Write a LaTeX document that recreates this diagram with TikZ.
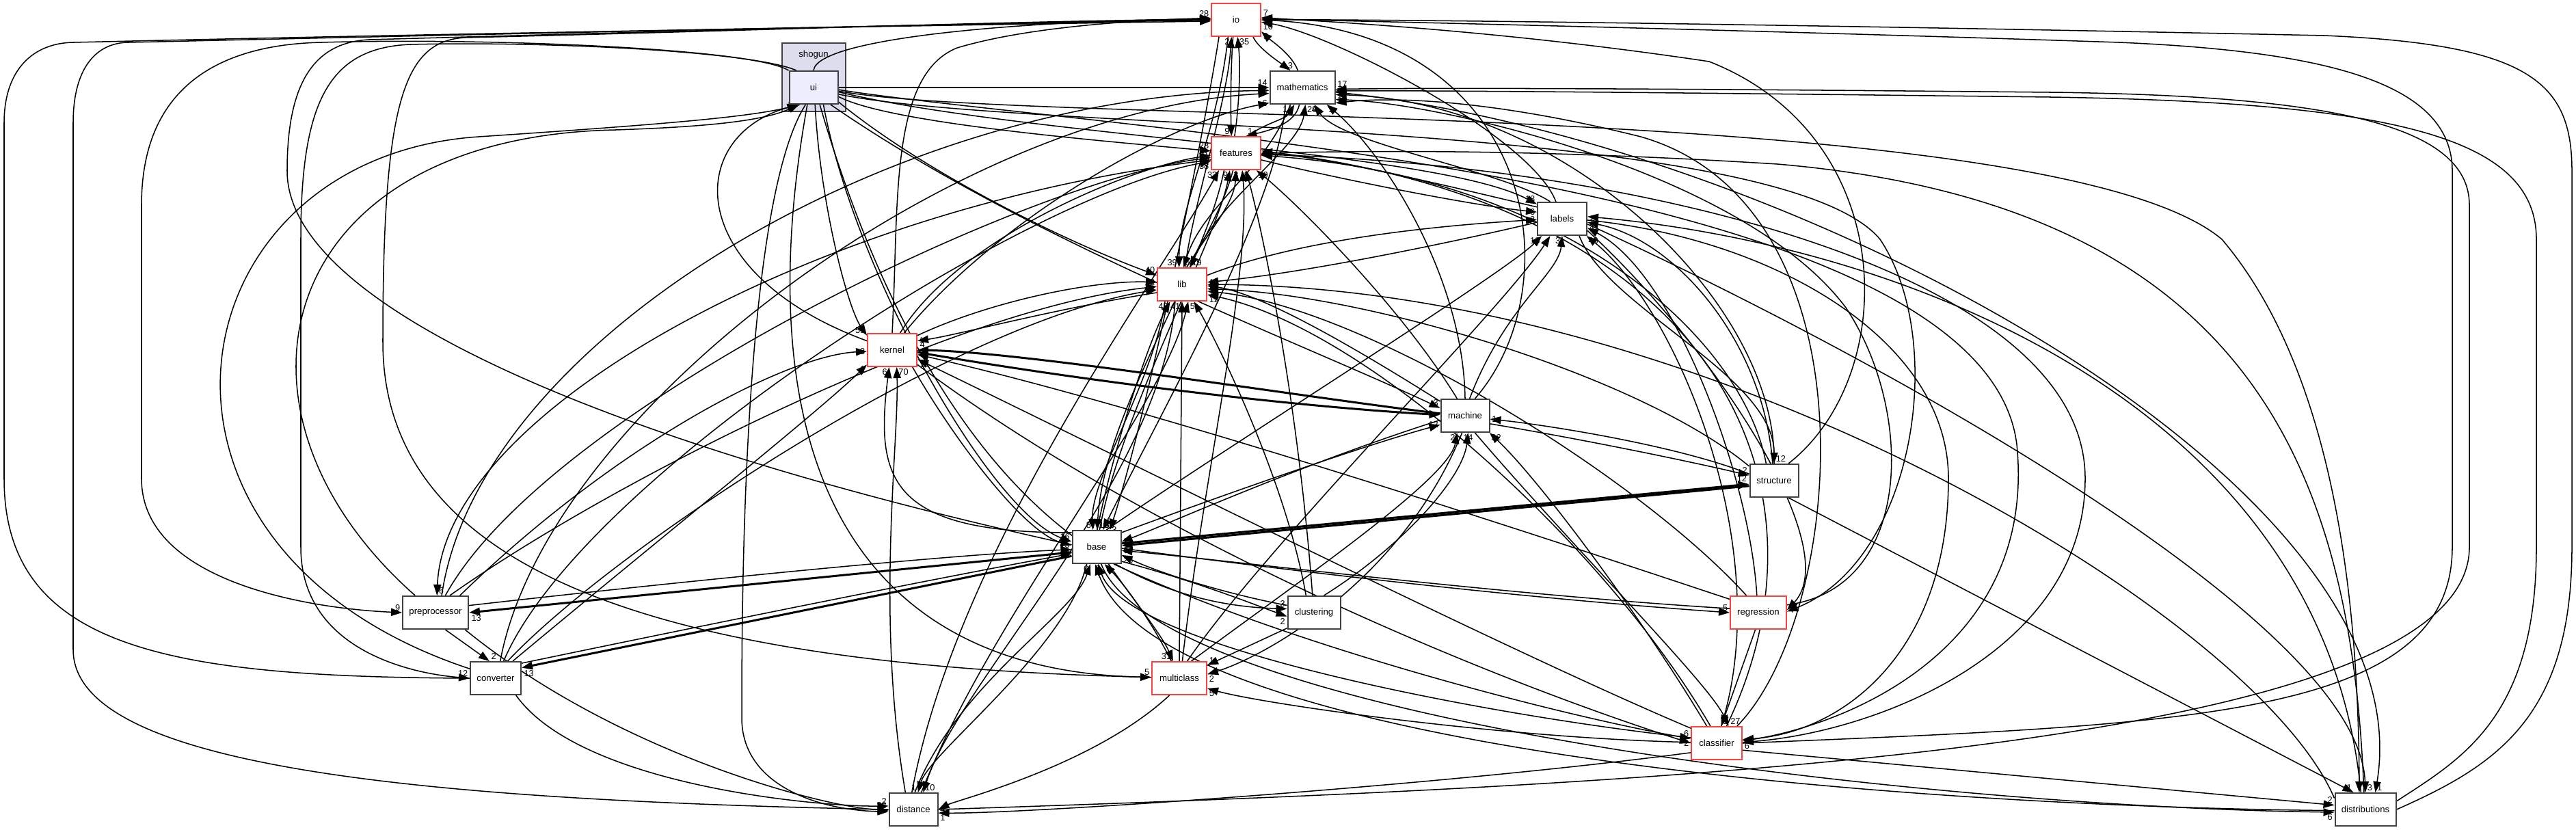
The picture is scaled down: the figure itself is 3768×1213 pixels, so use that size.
\documentclass[tikz,border=0pt]{standalone}
\usepackage{fontspec}
\newfontfamily\hv{Liberation Sans}
\usetikzlibrary{arrows.meta}
\definecolor{nb}{RGB}{64,64,64}
\definecolor{nr}{RGB}{255,64,64}
\definecolor{clf}{RGB}{221,221,238}
\definecolor{uif}{RGB}{238,238,255}
\pgfdeclarelayer{cl}
\pgfdeclarelayer{edges}
\pgfsetlayers{cl,edges,main}
\begin{document}
\begin{tikzpicture}[x=0.25pt,y=-0.25pt,
 dn/.style={draw=nb,line width=0.5pt,fill=white,minimum height=12pt,inner sep=0pt,font=\hv\fontsize{3.3}{4}\selectfont},
 rn/.style={dn,draw=nr},
 e/.style={draw=black,line width=0.38pt,-{Triangle[length=4pt,width=2.8pt]}},
 et/.style={e,line width=0.75pt},
 l/.style={font=\hv\fontsize{3.2}{3.6}\selectfont,inner sep=0.5pt},
]
\useasboundingbox (0,0) rectangle (3768,1213);
\begin{pgfonlayer}{cl}
\fill[white] (0,0) rectangle (3768,1213);
\draw[draw=nb,fill=clf,line width=0.5pt] (1144,63) rectangle (1237,163);
\end{pgfonlayer}
\node[font=\hv\fontsize{3.3}{4}\selectfont] (shogun) at (1190,80) {shogun};
\node[dn,fill=uif,minimum width=17.75pt] (ui) at (1190,128) {ui};
\node[rn,minimum width=18pt] (io) at (1808,29) {io};
\node[dn,minimum width=23.75pt] (mathematics) at (1905,128) {mathematics};
\node[rn,minimum width=18pt] (features) at (1808,224) {features};
\node[dn,minimum width=18pt] (labels) at (2285,320) {labels};
\node[rn,minimum width=18pt] (lib) at (1729,416) {lib};
\node[rn,minimum width=18pt] (kernel) at (1305,512) {kernel};
\node[dn,minimum width=17.75pt] (machine) at (2143,608) {machine};
\node[dn,minimum width=17.75pt] (structure) at (2595,703) {structure};
\node[dn,minimum width=17.75pt] (base) at (1604,800) {base};
\node[dn,minimum width=24pt] (preprocessor) at (637,896) {preprocessor};
\node[dn,minimum width=19.25pt] (clustering) at (1922,896) {clustering};
\node[rn,minimum width=20.5pt] (regression) at (2572,896) {regression};
\node[dn,minimum width=18.5pt] (converter) at (725,992) {converter};
\node[rn,minimum width=20pt] (multiclass) at (1725,992) {multiclass};
\node[rn,minimum width=18.5pt] (classifier) at (2511,1087) {classifier};
\node[dn,minimum width=17.75pt] (distance) at (1336,1184) {distance};
\node[dn,minimum width=22.25pt] (distributions) at (3460,1184) {distributions};

\begin{pgfonlayer}{edges}
% into io
\draw[e] (ui.north) .. controls (1195,55) and (1500,30) .. (io.178) node[l,anchor=south east]{28};
\draw[e] (converter.west) .. controls (250,990) and (6,950) .. (6,700) -- (6,180) .. controls (6,100) and (50,63) .. (107,62) .. controls (700,48) and (1500,35) .. (io.183);
\draw[e] (distance.west) .. controls (600,1170) and (107,1120) .. (107,950) -- (107,180) .. controls (107,100) and (140,63) .. (187,62) .. controls (800,48) and (1500,33) .. (io.181);
\draw[e] (base.175) .. controls (900,650) and (420,450) .. (420,250) .. controls (420,120) and (460,62) .. (540,58) .. controls (1000,45) and (1500,32) .. (io.180);
\draw[e] (multiclass.178) .. controls (1000,975) and (560,850) .. (560,500) .. controls (560,150) and (590,60) .. (680,55) .. controls (1100,45) and (1500,30) .. (io.179);
\draw[e] (kernel.north) .. controls (1315,300) and (1300,110) .. (1400,70) .. controls (1500,40) and (1650,30) .. (io.176);
\draw[e] (features.95) .. controls (1812,160) and (1815,100) .. (io.-85) node[l,anchor=north west]{35};
\draw[e] (io.-100) .. controls (1800,100) and (1800,160) .. (features.105) node[l,anchor=south east]{9};
\draw[e] (io.-45) .. controls (1840,70) and (1870,90) .. (mathematics.125) node[l,anchor=south]{3};
\draw[e] (mathematics.105) .. controls (1890,80) and (1860,60) .. (io.-25) node[l,anchor=north west]{5};
\draw[e] (io.-115) .. controls (1780,200) and (1725,300) .. (lib.100) node[l,anchor=south east]{39};
\draw[e] (lib.80) .. controls (1745,300) and (1795,150) .. (io.-105) node[l,anchor=north east]{2};
\draw[e] (labels.110) .. controls (2240,200) and (1950,50) .. (io.-5) node[l,anchor=north west]{10};
\draw[e] (machine.60) .. controls (2300,420) and (2250,50) .. (io.east);
\draw[e] (structure.50) .. controls (2780,550) and (2780,200) .. (2500,90) .. controls (2200,45) and (1950,32) .. (io.5) node[l,anchor=south west]{7};
\draw[e] (classifier.east) .. controls (3200,1060) and (3587,1050) .. (3587,800) -- (3587,250) .. controls (3587,120) and (3400,75) .. (3100,62) .. controls (2500,42) and (1950,30) .. (io.2);
\draw[e] (distributions.east) .. controls (3650,1120) and (3762,1050) .. (3762,800) -- (3762,250) .. controls (3762,120) and (3700,65) .. (3400,52) .. controls (2600,35) and (2000,28) .. (io.0);
% into mathematics
\draw[e] (ui.east) -- (mathematics.west) node[l,anchor=south east]{14};
\draw[e] (features.55) .. controls (1850,180) and (1880,175) .. (mathematics.-115) node[l,anchor=north east]{14};
\draw[e] (mathematics.-100) .. controls (1895,180) and (1860,190) .. (features.60) node[l,anchor=south west]{1};
\draw[e] (lib.65) .. controls (1770,300) and (1900,220) .. (mathematics.-80) node[l,anchor=north west]{29};
\draw[e] (kernel.55) .. controls (1450,330) and (1700,180) .. (mathematics.-155) node[l,anchor=east]{6};
\draw[e] (labels.125) .. controls (2200,250) and (1960,210) .. (mathematics.-55) node[l,anchor=north]{4};
\draw[e] (machine.north) .. controls (2140,400) and (2020,220) .. (mathematics.-35) node[l,anchor=north west]{1};
\draw[e] (structure.north) .. controls (2600,450) and (2300,150) .. (mathematics.-12) node[l,anchor=north west]{10};
\draw[e] (distance.east) .. controls (2400,1150) and (3612,1100) .. (3612,800) -- (3612,300) .. controls (3612,180) and (3400,140) .. (3000,135) .. controls (2500,130) and (2100,128) .. (mathematics.-3) node[l,anchor=south west]{17};
\draw[e] (distributions.15) .. controls (3600,1110) and (3710,1050) .. (3710,800) -- (3710,350) .. controls (3710,200) and (3500,150) .. (3000,142) .. controls (2500,136) and (2100,132) .. (mathematics.-6) node[l,anchor=west]{6};
\draw[e] (regression.15) .. controls (2800,860) and (2800,600) .. (2700,450) .. controls (2550,250) and (2100,150) .. (mathematics.-20);
\draw[e] (preprocessor.70) .. controls (700,500) and (1300,140) .. (mathematics.185);
\draw[e] (converter.75) .. controls (800,600) and (1400,160) .. (mathematics.190);
\draw[e] (classifier.40) .. controls (2700,900) and (2750,300) .. (2400,200) .. controls (2200,150) and (2050,140) .. (mathematics.-25);
% into features
\draw[e] (ui.-20) .. controls (1300,180) and (1600,205) .. (features.175) node[l,anchor=south east]{28};
\draw[e] (kernel.65) .. controls (1400,350) and (1650,245) .. (features.185) node[l,anchor=east]{21};
\draw[e] (preprocessor.60) .. controls (800,600) and (1500,265) .. (features.190) node[l,anchor=north east]{33};
\draw[e] (converter.65) .. controls (850,700) and (1500,285) .. (features.198) node[l,anchor=north east]{38};
\draw[e] (distance.95) .. controls (1400,800) and (1700,400) .. (features.-135) node[l,anchor=north east]{33};
\draw[e] (base.80) .. controls (1640,600) and (1780,350) .. (features.-110) node[l,anchor=north east]{9};
\draw[e] (lib.75) .. controls (1760,350) and (1805,300) .. (features.-90) node[l,anchor=north]{3};
\draw[e] (multiclass.80) .. controls (1760,700) and (1830,400) .. (features.-70) node[l,anchor=north west]{8};
\draw[e] (machine.115) .. controls (2050,450) and (1900,300) .. (features.-40) node[l,anchor=north west]{10};
\draw[e] (labels.155) .. controls (2150,280) and (1950,230) .. (features.east) node[l,anchor=west]{4};
\draw[e] (classifier.60) .. controls (2700,700) and (2500,300) .. (features.5);
\draw[e] (structure.115) .. controls (2550,500) and (2300,260) .. (features.-5);
\draw[e] (clustering.95) .. controls (1900,600) and (1850,350) .. (features.-60);
\draw[e] (distributions.95) .. controls (3440,700) and (3300,300) .. (2600,240) .. controls (2200,215) and (1950,222) .. (features.0);
% into labels
\draw[e] (ui.-10) .. controls (1500,200) and (2100,220) .. (labels.150) node[l,anchor=south east]{18};
\draw[e] (features.-15) .. controls (1950,260) and (2150,300) .. (labels.165) node[l,anchor=east]{6};
\draw[e] (lib.20) .. controls (1900,350) and (2100,330) .. (labels.182) node[l,anchor=east]{2};
\draw[e] (base.60) .. controls (1800,650) and (2200,400) .. (labels.-140) node[l,anchor=north east]{18};
\draw[e] (multiclass.65) .. controls (1850,800) and (2200,450) .. (labels.-125);
\draw[e] (machine.75) .. controls (2200,450) and (2280,400) .. (labels.-90) node[l,anchor=north east]{3};
\draw[e] (classifier.75) .. controls (2600,800) and (2450,450) .. (labels.-35) node[l,anchor=north west]{46};
\draw[e] (regression.95) .. controls (2560,700) and (2450,400) .. (labels.-20) node[l,anchor=west]{4};
\draw[e] (structure.95) .. controls (2580,500) and (2450,350) .. (labels.-8) node[l,anchor=west]{1};
\draw[e] (distributions.105) .. controls (3400,600) and (2800,360) .. (labels.5);
% into lib
\draw[e] (mathematics.-125) .. controls (1850,250) and (1760,300) .. (lib.85) node[l,anchor=south west]{56};
\draw[e] (features.-100) .. controls (1790,300) and (1760,350) .. (lib.65) node[l,anchor=south west]{19};
\draw[e] (ui.-30) .. controls (1350,250) and (1550,350) .. (lib.160) node[l,anchor=south east]{40};
\draw[e] (kernel.30) .. controls (1450,440) and (1600,410) .. (lib.175) node[l,anchor=east]{22};
\draw[e] (preprocessor.50) .. controls (900,700) and (1400,450) .. (lib.185) node[l,anchor=east]{15};
\draw[e] (converter.55) .. controls (900,800) and (1400,470) .. (lib.192);
\draw[e] (labels.188) .. controls (2100,360) and (1900,400) .. (lib.5) node[l,anchor=west]{13};
\draw[e] (machine.150) .. controls (2000,520) and (1850,430) .. (lib.-3) node[l,anchor=west]{6};
\draw[e] (structure.150) .. controls (2400,550) and (2000,430) .. (lib.-10) node[l,anchor=north west]{13};
\draw[e] (classifier.110) .. controls (2350,800) and (2000,480) .. (lib.-22) node[l,anchor=north west]{12};
\draw[e] (base.88) .. controls (1630,650) and (1680,500) .. (lib.-125) node[l,anchor=north east]{45};
\draw[e] (multiclass.north) -- (lib.south) node[l,anchor=north east]{41};
\draw[e] (distance.65) .. controls (1450,900) and (1700,600) .. (lib.-70) node[l,anchor=north west]{5};
\draw[e] (regression.125) .. controls (2400,700) and (2000,450) .. (lib.-15);
\draw[e] (clustering.115) .. controls (1880,700) and (1780,500) .. (lib.-55);
\draw[e] (distributions.160) .. controls (3300,900) and (2500,420) .. (lib.0);
% into kernel
\draw[e] (ui.-85) .. controls (1200,300) and (1240,450) .. (kernel.150) node[l,anchor=south east]{53};
\draw[e] (preprocessor.35) .. controls (900,650) and (1150,520) .. (kernel.183) node[l,anchor=east]{3};
\draw[e] (converter.45) .. controls (950,800) and (1200,600) .. (kernel.-150) node[l,anchor=north east]{1};
\draw[e] (lib.198) .. controls (1550,450) and (1400,490) .. (kernel.20) node[l,anchor=west]{1};
\draw[et] (machine.175) .. controls (1900,580) and (1500,515) .. (kernel.0) node[l,anchor=south west]{4};
\draw[e] (classifier.150) .. controls (2200,950) and (1600,650) .. (kernel.-20) node[l,anchor=north west]{12};
\draw[e] (base.150) .. controls (1300,780) and (1280,700) .. (kernel.-100) node[l,anchor=north east]{6};
\draw[e] (distance.115) .. controls (1280,900) and (1315,650) .. (kernel.-75) node[l,anchor=north west]{70};
\draw[e] (regression.155) .. controls (2300,800) and (1700,600) .. (kernel.-10);
% into machine
\draw[e] (ui.-45) .. controls (1500,350) and (1900,500) .. (machine.163) node[l,anchor=south east]{3};
\draw[et] (kernel.-5) .. controls (1600,560) and (1900,595) .. (machine.178);
\draw[e] (base.30) .. controls (1800,720) and (2000,650) .. (machine.-160) node[l,anchor=east]{12};
\draw[e] (multiclass.55) .. controls (1900,850) and (2120,700) .. (machine.-115) node[l,anchor=north east]{2};
\draw[e] (clustering.60) .. controls (2050,800) and (2140,700) .. (machine.-80) node[l,anchor=north]{14};
\draw[e] (structure.165) .. controls (2450,650) and (2250,620) .. (machine.-8) node[l,anchor=west]{1};
\draw[e] (classifier.120) .. controls (2400,900) and (2250,700) .. (machine.-35) node[l,anchor=north west]{32};
% into structure
\draw[e] (labels.-45) .. controls (2350,450) and (2595,550) .. (structure.north) node[l,anchor=south west]{12};
\draw[e] (machine.-18) .. controls (2300,640) and (2450,670) .. (structure.168) node[l,anchor=south east]{2};
\draw[et] (base.8) -- (structure.188) node[l,anchor=south east]{12};
% into base
\draw[e] (lib.-135) .. controls (1690,550) and (1595,700) .. (base.102) node[l,anchor=south east]{8};
\draw[e] (features.-125) .. controls (1760,400) and (1615,600) .. (base.88) node[l,anchor=south west]{19};
\draw[e] (mathematics.-135) .. controls (1870,300) and (1700,600) .. (base.70) node[l,anchor=south west]{30};
\draw[e] (io.-135) .. controls (1760,200) and (1680,600) .. (base.52) node[l,anchor=west]{3};
\draw[e] (ui.-60) .. controls (1250,400) and (1450,750) .. (base.168) node[l,anchor=south east]{16};
\draw[e] (kernel.-40) .. controls (1400,650) and (1500,780) .. (base.176) node[l,anchor=east]{15};
\draw[e] (preprocessor.12) .. controls (1000,850) and (1400,810) .. (base.186) node[l,anchor=north east]{5};
\draw[et] (base.192) -- (preprocessor.east) node[l,anchor=north west]{13};
\draw[e] (converter.30) .. controls (1100,900) and (1400,840) .. (base.195);
\draw[et] (base.200) -- (converter.22) node[l,anchor=north west]{13};
\draw[e] (machine.-170) .. controls (1900,680) and (1700,770) .. (base.12) node[l,anchor=west]{9};
\draw[et] (structure.192) -- (base.3) node[l,anchor=west]{9};
\draw[e] (regression.172) .. controls (2200,870) and (1800,820) .. (base.-8) node[l,anchor=west]{6};
\draw[e] (clustering.165) .. controls (1800,870) and (1700,840) .. (base.-18) node[l,anchor=north west]{28};
\draw[e] (multiclass.115) .. controls (1680,900) and (1640,850) .. (base.-65) node[l,anchor=north west]{8};
\draw[e] (classifier.168) .. controls (2200,1050) and (1650,950) .. (base.-85) node[l,anchor=north]{5};
\draw[e] (distance.85) .. controls (1400,1000) and (1570,900) .. (base.-110) node[l,anchor=north east]{6};
\draw[e] (distributions.182) .. controls (2800,1180) and (1700,1100) .. (base.-95);
% preprocessor, converter
\draw[e] (ui.north west) .. controls (1100,70) and (700,55) .. (470,62) .. controls (330,65) and (207,120) .. (207,300) -- (207,700) .. controls (207,850) and (450,890) .. (preprocessor.west) node[l,anchor=south east]{9};
\draw[e] (features.195) .. controls (1200,300) and (650,600) .. (preprocessor.85) node[l,anchor=south west]{6};
\draw[e] (ui.135) .. controls (1100,75) and (800,60) .. (600,65) .. controls (480,70) and (440,150) .. (440,350) -- (440,800) .. controls (440,950) and (600,985) .. (converter.west) node[l,anchor=south east]{12};
\draw[e] (preprocessor.-60) -- (converter.110) node[l,anchor=south west]{2};
% clustering
\draw[e] (ui.-70) .. controls (1300,500) and (1500,880) .. (clustering.172) node[l,anchor=south east]{3};
\draw[e] (base.-30) .. controls (1750,850) and (1850,890) .. (clustering.188) node[l,anchor=north east]{2};
% multiclass
\draw[e] (base.-55) .. controls (1660,880) and (1700,930) .. (multiclass.110) node[l,anchor=south east]{31};
\draw[e] (ui.-110) .. controls (1100,600) and (1200,980) .. (multiclass.178) node[l,anchor=south east]{5};
\draw[e] (clustering.-150) -- (multiclass.25) node[l,anchor=south west]{1};
\draw[e] (machine.-100) .. controls (2050,850) and (1850,960) .. (multiclass.8) node[l,anchor=north west]{2};
\draw[e] (classifier.178) .. controls (2200,1080) and (1850,1030) .. (multiclass.-20) node[l,anchor=north west]{5};
% regression
\draw[e] (base.-3) .. controls (2000,850) and (2300,880) .. (regression.180) node[l,anchor=south east]{5};
\draw[e] (labels.-25) .. controls (2500,500) and (2700,800) .. (regression.5) node[l,anchor=west]{4};
\draw[e] (ui.-15) .. controls (1500,195) and (2600,170) .. (2750,350) .. controls (2850,500) and (2800,820) .. (regression.2);
% classifier
\draw[e] (regression.-100) -- (classifier.75) node[l,anchor=south west]{3};
\draw[e] (machine.-60) .. controls (2300,800) and (2500,1000) .. (classifier.55) node[l,anchor=south west]{27};
\draw[e] (base.-45) .. controls (1900,950) and (2300,1050) .. (classifier.170) node[l,anchor=south east]{6};
\draw[e] (kernel.-30) .. controls (1700,800) and (2200,1000) .. (classifier.180) node[l,anchor=east]{2};
\draw[e] (ui.-5) .. controls (1600,190) and (2900,250) .. (2950,650) .. controls (2980,950) and (2700,1060) .. (classifier.5) node[l,anchor=north west]{6};
\draw[e] (features.-3) .. controls (2400,240) and (3050,400) .. (3050,700) .. controls (3050,950) and (2750,1070) .. (classifier.2);
\draw[e] (labels.-3) .. controls (2600,350) and (2850,500) .. (2850,700) .. controls (2850,950) and (2700,1070) .. (classifier.8);
% distance
\draw[e] (base.-120) .. controls (1560,950) and (1360,1100) .. (distance.75) node[l,anchor=south east]{1};
\draw[e] (lib.-112) .. controls (1700,700) and (1400,1000) .. (distance.60) node[l,anchor=south west]{10};
\draw[e] (converter.-40) .. controls (850,1150) and (1200,1180) .. (distance.172) node[l,anchor=south east]{2};
\draw[e] (preprocessor.-30) .. controls (900,1100) and (1200,1180) .. (distance.182) node[l,anchor=south east]{28};
\draw[e] (multiclass.-120) .. controls (1600,1120) and (1400,1170) .. (distance.0) node[l,anchor=west]{4};
\draw[e] (classifier.-160) .. controls (2100,1150) and (1500,1190) .. (distance.-8) node[l,anchor=north west]{1};
\draw[e] (ui.-115) .. controls (1085,300) and (1085,900) .. (1085,1050) .. controls (1085,1150) and (1200,1185) .. (distance.185);
% distributions
\draw[e] (structure.-50) -- (distributions.125) node[l,anchor=south east]{1};
\draw[e] (classifier.-15) -- (distributions.172) node[l,anchor=south east]{2};
\draw[e] (base.-75) .. controls (1700,1050) and (2800,1180) .. (distributions.185) node[l,anchor=north east]{6};
\draw[e] (labels.-12) .. controls (2700,500) and (3450,900) .. (distributions.north) node[l,anchor=south west]{3};
\draw[e] (mathematics.-8) .. controls (2600,200) and (3550,700) .. (distributions.60) node[l,anchor=south west]{1};
\draw[e] (ui.-8) .. controls (1500,185) and (3000,140) .. (3250,350) .. controls (3420,550) and (3450,900) .. (distributions.110);
% into ui
\draw[e] (preprocessor.140) .. controls (300,600) and (400,200) .. (900,190) .. controls (1050,185) and (1120,175) .. (ui.-130) node[l,anchor=east]{12};
\draw[e] (converter.160) .. controls (150,800) and (250,230) .. (700,200) .. controls (1000,180) and (1100,170) .. (ui.-128);
\draw[e] (kernel.160) .. controls (1000,400) and (1000,200) .. (ui.-132);
\end{pgfonlayer}
\end{tikzpicture}
\end{document}
